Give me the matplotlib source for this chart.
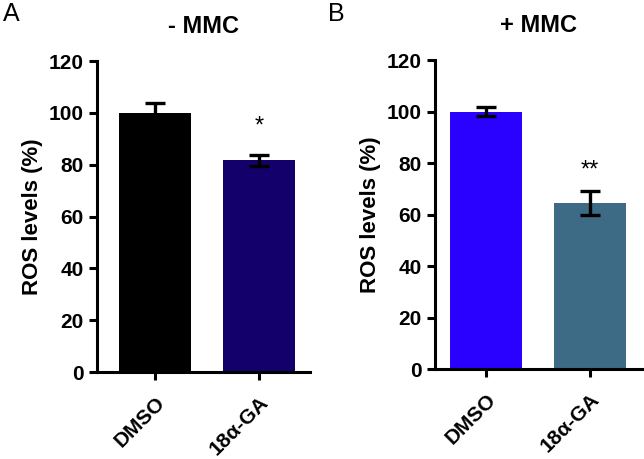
import matplotlib
matplotlib.use("Agg")
import matplotlib.pyplot as plt

plt.rcParams['font.family'] = ['Liberation Sans', 'DejaVu Sans']

groups = ["DMSO", "18\u03b1-GA"]
minus_mmc = [100, 81.7]
minus_mmc_err = [3.8, 2.2]
plus_mmc = [100, 64.5]
plus_mmc_err = [1.7, 4.5]
minus_colors = ["#000000", "#13006A"]
plus_colors = ["#2A00FF", "#3D6A85"]
minus_stars = ["", "*"]
plus_stars = ["", "**"]
minus_star_y = [0, 94.7]
plus_star_y = [0, 77.0]

fig = plt.figure(figsize=(6.44, 4.59), dpi=100)


def panel(rect, xlim, vals, errs, colors, stars, star_y, title, letter, letter_x):
    ax = fig.add_axes(rect)
    x = range(len(groups))
    ax.bar(x, vals, width=0.70, color=colors, zorder=1)
    ax.errorbar(x, vals, yerr=errs, fmt='none', ecolor='black',
                elinewidth=2.4, capsize=7, capthick=2.4, zorder=2)
    for i, s in enumerate(stars):
        if s:
            ax.text(i, star_y[i], s, ha='center', va='center', fontsize=17)
    ax.set_xlim(*xlim)
    ax.set_ylim(0, 120)
    ax.set_yticks(range(0, 121, 20))
    ax.set_xticks(list(x))
    ax.set_xticklabels(groups, rotation=45, ha='right', rotation_mode='anchor')
    for sp in ['top', 'right']:
        ax.spines[sp].set_visible(False)
    for sp in ['left', 'bottom']:
        ax.spines[sp].set_linewidth(2.2)
    ax.tick_params(width=2.2, length=6, labelsize=15)
    ax.tick_params(axis='x', pad=9)
    for lab in ax.get_xticklabels() + ax.get_yticklabels():
        lab.set_fontweight('bold')
    ax.set_ylabel("ROS levels (%)", fontsize=16, fontweight='bold', labelpad=4)
    ax.set_title(title, fontsize=17, fontweight='bold', pad=20)
    fig.text(letter_x, 0.995, letter, fontsize=18, va='top')
    return ax


panel([0.1506, 0.1895, 0.3308, 0.6775], (-0.558, 1.49), minus_mmc,
      minus_mmc_err, minus_colors, minus_stars, minus_star_y, "- MMC", "A", 0.005)
panel([0.6755, 0.196, 0.3215, 0.673], (-0.49, 1.5), plus_mmc,
      plus_mmc_err, plus_colors, plus_stars, plus_star_y, "+ MMC", "B", 0.51)

fig.savefig("out.png", dpi=100)
